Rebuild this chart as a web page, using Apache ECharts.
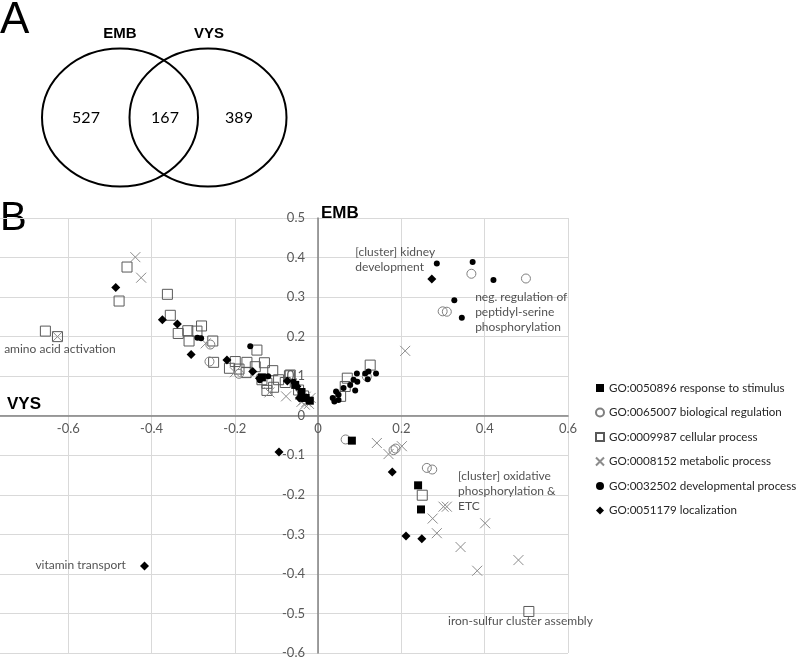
<!DOCTYPE html>
<html><head><meta charset="utf-8">
<script src="https://cdn.jsdelivr.net/npm/echarts@6/dist/echarts.min.js"></script>
<style>html,body{margin:0;padding:0;background:#fff}#c{width:800px;height:665px}</style>
</head><body><div id="c"></div>
<script>
// ---- Venn (panel A) ----
const vennSets = ['EMB', 'VYS'];
const vennCounts = [527, 167, 389];

// ---- Scatter (panel B) : [VYS, EMB] ----
const seriesNames = [
  'GO:0050896 response to stimulus',
  'GO:0065007 biological regulation',
  'GO:0009987 cellular process',
  'GO:0008152 metabolic process',
  'GO:0032502 developmental process',
  'GO:0051179 localization'
];
const responseStim = [[0.081,-0.063],[0.240,-0.176],[0.247,-0.237],[-0.135,0.097],[-0.055,0.078],
  [-0.040,0.060],[-0.030,0.045],[-0.020,0.038]];
const bioReg = [[-0.259,0.180],[-0.261,0.137],[-0.190,0.106],[0.117,0.099],[0.368,0.359],[0.499,0.347],
  [0.299,0.264],[0.309,0.263],[0.066,-0.060],[0.181,-0.087],[0.186,-0.083],[0.261,-0.132],[0.274,-0.136]];
const cellProc = [[-0.655,0.214],[-0.626,0.200],[-0.459,0.376],[-0.478,0.290],[-0.362,0.307],[-0.355,0.254],
  [-0.336,0.208],[-0.313,0.215],[-0.291,0.214],[-0.280,0.227],[-0.310,0.189],[-0.253,0.189],[-0.147,0.166],
  [-0.251,0.135],[-0.213,0.120],[-0.199,0.137],[-0.190,0.118],[-0.171,0.135],[-0.173,0.109],[-0.151,0.124],
  [-0.129,0.134],[-0.135,0.091],[-0.123,0.082],[-0.109,0.114],[-0.107,0.072],[-0.123,0.064],[-0.095,0.091],
  [-0.067,0.103],[-0.079,0.084],[-0.047,0.065],[-0.069,0.101],[-0.035,0.050],[0.125,0.128],[0.070,0.095],
  [0.065,0.074],[0.054,0.049],[0.250,-0.201],[0.506,-0.495]];
const metabProc = [[-0.439,0.401],[-0.425,0.349],[-0.626,0.200],[-0.270,0.183],[-0.117,0.059],[-0.077,0.049],
  [-0.043,0.053],[-0.035,0.040],[-0.028,0.035],[-0.040,0.035],[-0.030,0.048],[-0.200,0.110],[-0.022,0.030],
  [-0.018,0.045],[-0.032,0.028],[0.209,0.164],
  [0.141,-0.069],[0.169,-0.097],[0.201,-0.077],[0.301,-0.230],[0.309,-0.230],[0.275,-0.260],[0.401,-0.272],
  [0.285,-0.297],[0.342,-0.332],[0.481,-0.365],[0.382,-0.392]];
const devProc = [[-0.290,0.197],[-0.281,0.196],[-0.163,0.176],[-0.059,0.086],[-0.041,0.057],[-0.039,0.042],
  [0.285,0.385],[0.371,0.389],[0.421,0.343],[0.327,0.292],[0.345,0.248],[0.121,0.112],[0.139,0.107],
  [0.113,0.107],[0.119,0.092],[0.093,0.107],[0.085,0.091],[0.094,0.086],[0.077,0.078],[0.089,0.064],
  [0.061,0.070],[0.043,0.061],[0.049,0.053],[0.039,0.036],[0.049,0.040],[0.035,0.045],[-0.140,0.090],[-0.120,0.100]];
const localiz = [[-0.486,0.324],[-0.374,0.243],[-0.338,0.232],[-0.305,0.155],[-0.219,0.141],[-0.157,0.112],
  [-0.141,0.095],[-0.074,0.088],[-0.051,0.074],[-0.045,0.045],[0.273,0.346],[0.178,-0.142],[0.211,-0.304],
  [0.249,-0.311],[-0.094,-0.092],[-0.417,-0.380]];

const annotations = [
  {x:-0.754, y:0.169, text:'amino acid activation', v:'middle'},
  {x:0.089, y:0.432, text:'[cluster] kidney\ndevelopment', v:'top'},
  {x:0.377, y:0.319, text:'neg. regulation of\npeptidyl-serine\nphosphorylation', v:'top'},
  {x:0.336, y:-0.135, text:'[cluster] oxidative\nphosphorylation &\nETC', v:'top'},
  {x:-0.679, y:-0.378, text:'vitamin transport', v:'middle'},
  {x:0.312, y:-0.519, text:'iron-sulfur cluster assembly', v:'middle'}
];

const xTicks = {min:-0.8, max:0.6, interval:0.2};
const yTicks = {min:-0.6, max:0.5, interval:0.1};

const FONT = 'Lato, "Open Sans", sans-serif';
const chart = echarts.init(document.getElementById('c'), null, {renderer:'canvas'});

const crossPath = 'path://M0,0L10,10M10,0L0,10';
const mk = (name, data, symbol, size, fill, stroke, bw) => ({
  name, type:'scatter', data, symbol, symbolSize:size,
  itemStyle:{color:fill, borderColor:stroke, borderWidth:bw, opacity:1},
  emphasis:{disabled:true}, z:3
});

const option = {
  animation:false,
  backgroundColor:'#fff',
  textStyle:{fontFamily:FONT},
  grid:{left:-15, top:218, width:583, height:435, containLabel:false, outerBoundsMode:'none'},
  xAxis:{type:'value', min:xTicks.min, max:xTicks.max, interval:xTicks.interval,
    position:'bottom', offset:-237,
    axisLine:{onZero:false, lineStyle:{color:'#808080', width:1.5}},
    axisTick:{show:false},
    axisLabel:{color:'#595959', fontSize:13, margin:6, fontFamily:FONT},
    splitLine:{show:true, lineStyle:{color:'#d9d9d9', width:1}}},
  yAxis:{type:'value', min:yTicks.min, max:yTicks.max, interval:yTicks.interval,
    position:'left', offset:-333,
    axisLine:{onZero:false, lineStyle:{color:'#808080', width:1.5}},
    axisTick:{show:false},
    axisLabel:{color:'#595959', fontSize:13, margin:13, fontFamily:FONT},
    splitLine:{show:true, lineStyle:{color:'#d9d9d9', width:1}}},
  legend:{
    orient:'vertical', left:590, top:377, itemWidth:8, itemHeight:8, itemGap:12.5,
    textStyle:{color:'#262626', fontSize:11.6, fontFamily:FONT},
    data:seriesNames
  },
  series:[
    mk(seriesNames[2], cellProc, 'rect', 10, 'rgba(255,255,255,0)', '#595959', 1),
    mk(seriesNames[1], bioReg, 'circle', 9, 'rgba(255,255,255,0)', '#7f7f7f', 1),
    mk(seriesNames[3], metabProc, crossPath, 10, 'rgba(0,0,0,0)', '#8c8c8c', 1),
    mk(seriesNames[0], responseStim, 'rect', 8, '#000', '#000', 0),
    mk(seriesNames[4], devProc, 'circle', 6, '#000', '#000', 0),
    mk(seriesNames[5], localiz, 'diamond', 9, '#000', '#000', 0),
    {
      type:'scatter', name:'annot', symbolSize:0, silent:true, z:5,
      data:annotations.map(a => ({value:[a.x, a.y], label:{formatter:a.text, verticalAlign:a.v}})),
      label:{show:true, position:'inside', align:'left', color:'#262626', fontSize:12,
        lineHeight:15, fontFamily:FONT}
    }
  ],
  graphic:[
    {type:'text', left:0, top:-1, style:{text:'A', font:'44px "Liberation Sans", Arial, sans-serif', fill:'#000'}},
    {type:'text', left:0, top:199, style:{text:'B', font:'40px "Liberation Sans", Arial, sans-serif', fill:'#000'}},
    {type:'ellipse', shape:{cx:120, cy:117.5, rx:78, ry:69}, style:{fill:'none', stroke:'#000', lineWidth:2}},
    {type:'ellipse', shape:{cx:208, cy:117.5, rx:78.5, ry:69}, style:{fill:'none', stroke:'#000', lineWidth:2}},
    {type:'text', x:120, y:34, style:{text:vennSets[0], font:'bold 15px "Liberation Sans", Arial, sans-serif', fill:'#000', align:'center', verticalAlign:'middle'}},
    {type:'text', x:209, y:34, style:{text:vennSets[1], font:'bold 15px "Liberation Sans", Arial, sans-serif', fill:'#000', align:'center', verticalAlign:'middle'}},
    {type:'text', x:86, y:118, style:{text:String(vennCounts[0]), font:'16px '+FONT, fill:'#000', align:'center', verticalAlign:'middle'}},
    {type:'text', x:165, y:118, style:{text:String(vennCounts[1]), font:'16px '+FONT, fill:'#000', align:'center', verticalAlign:'middle'}},
    {type:'text', x:239, y:118, style:{text:String(vennCounts[2]), font:'16px '+FONT, fill:'#000', align:'center', verticalAlign:'middle'}},
    {type:'text', x:321, y:213, z:10, style:{text:'EMB', font:'bold 17px "Liberation Sans", Arial, sans-serif', fill:'#000', align:'left', verticalAlign:'middle'}},
    {type:'text', x:7, y:404, z:10, style:{text:'VYS', font:'bold 17px "Liberation Sans", Arial, sans-serif', fill:'#000', align:'left', verticalAlign:'middle'}}
  ]
};
chart.setOption(option);
</script></body></html>
